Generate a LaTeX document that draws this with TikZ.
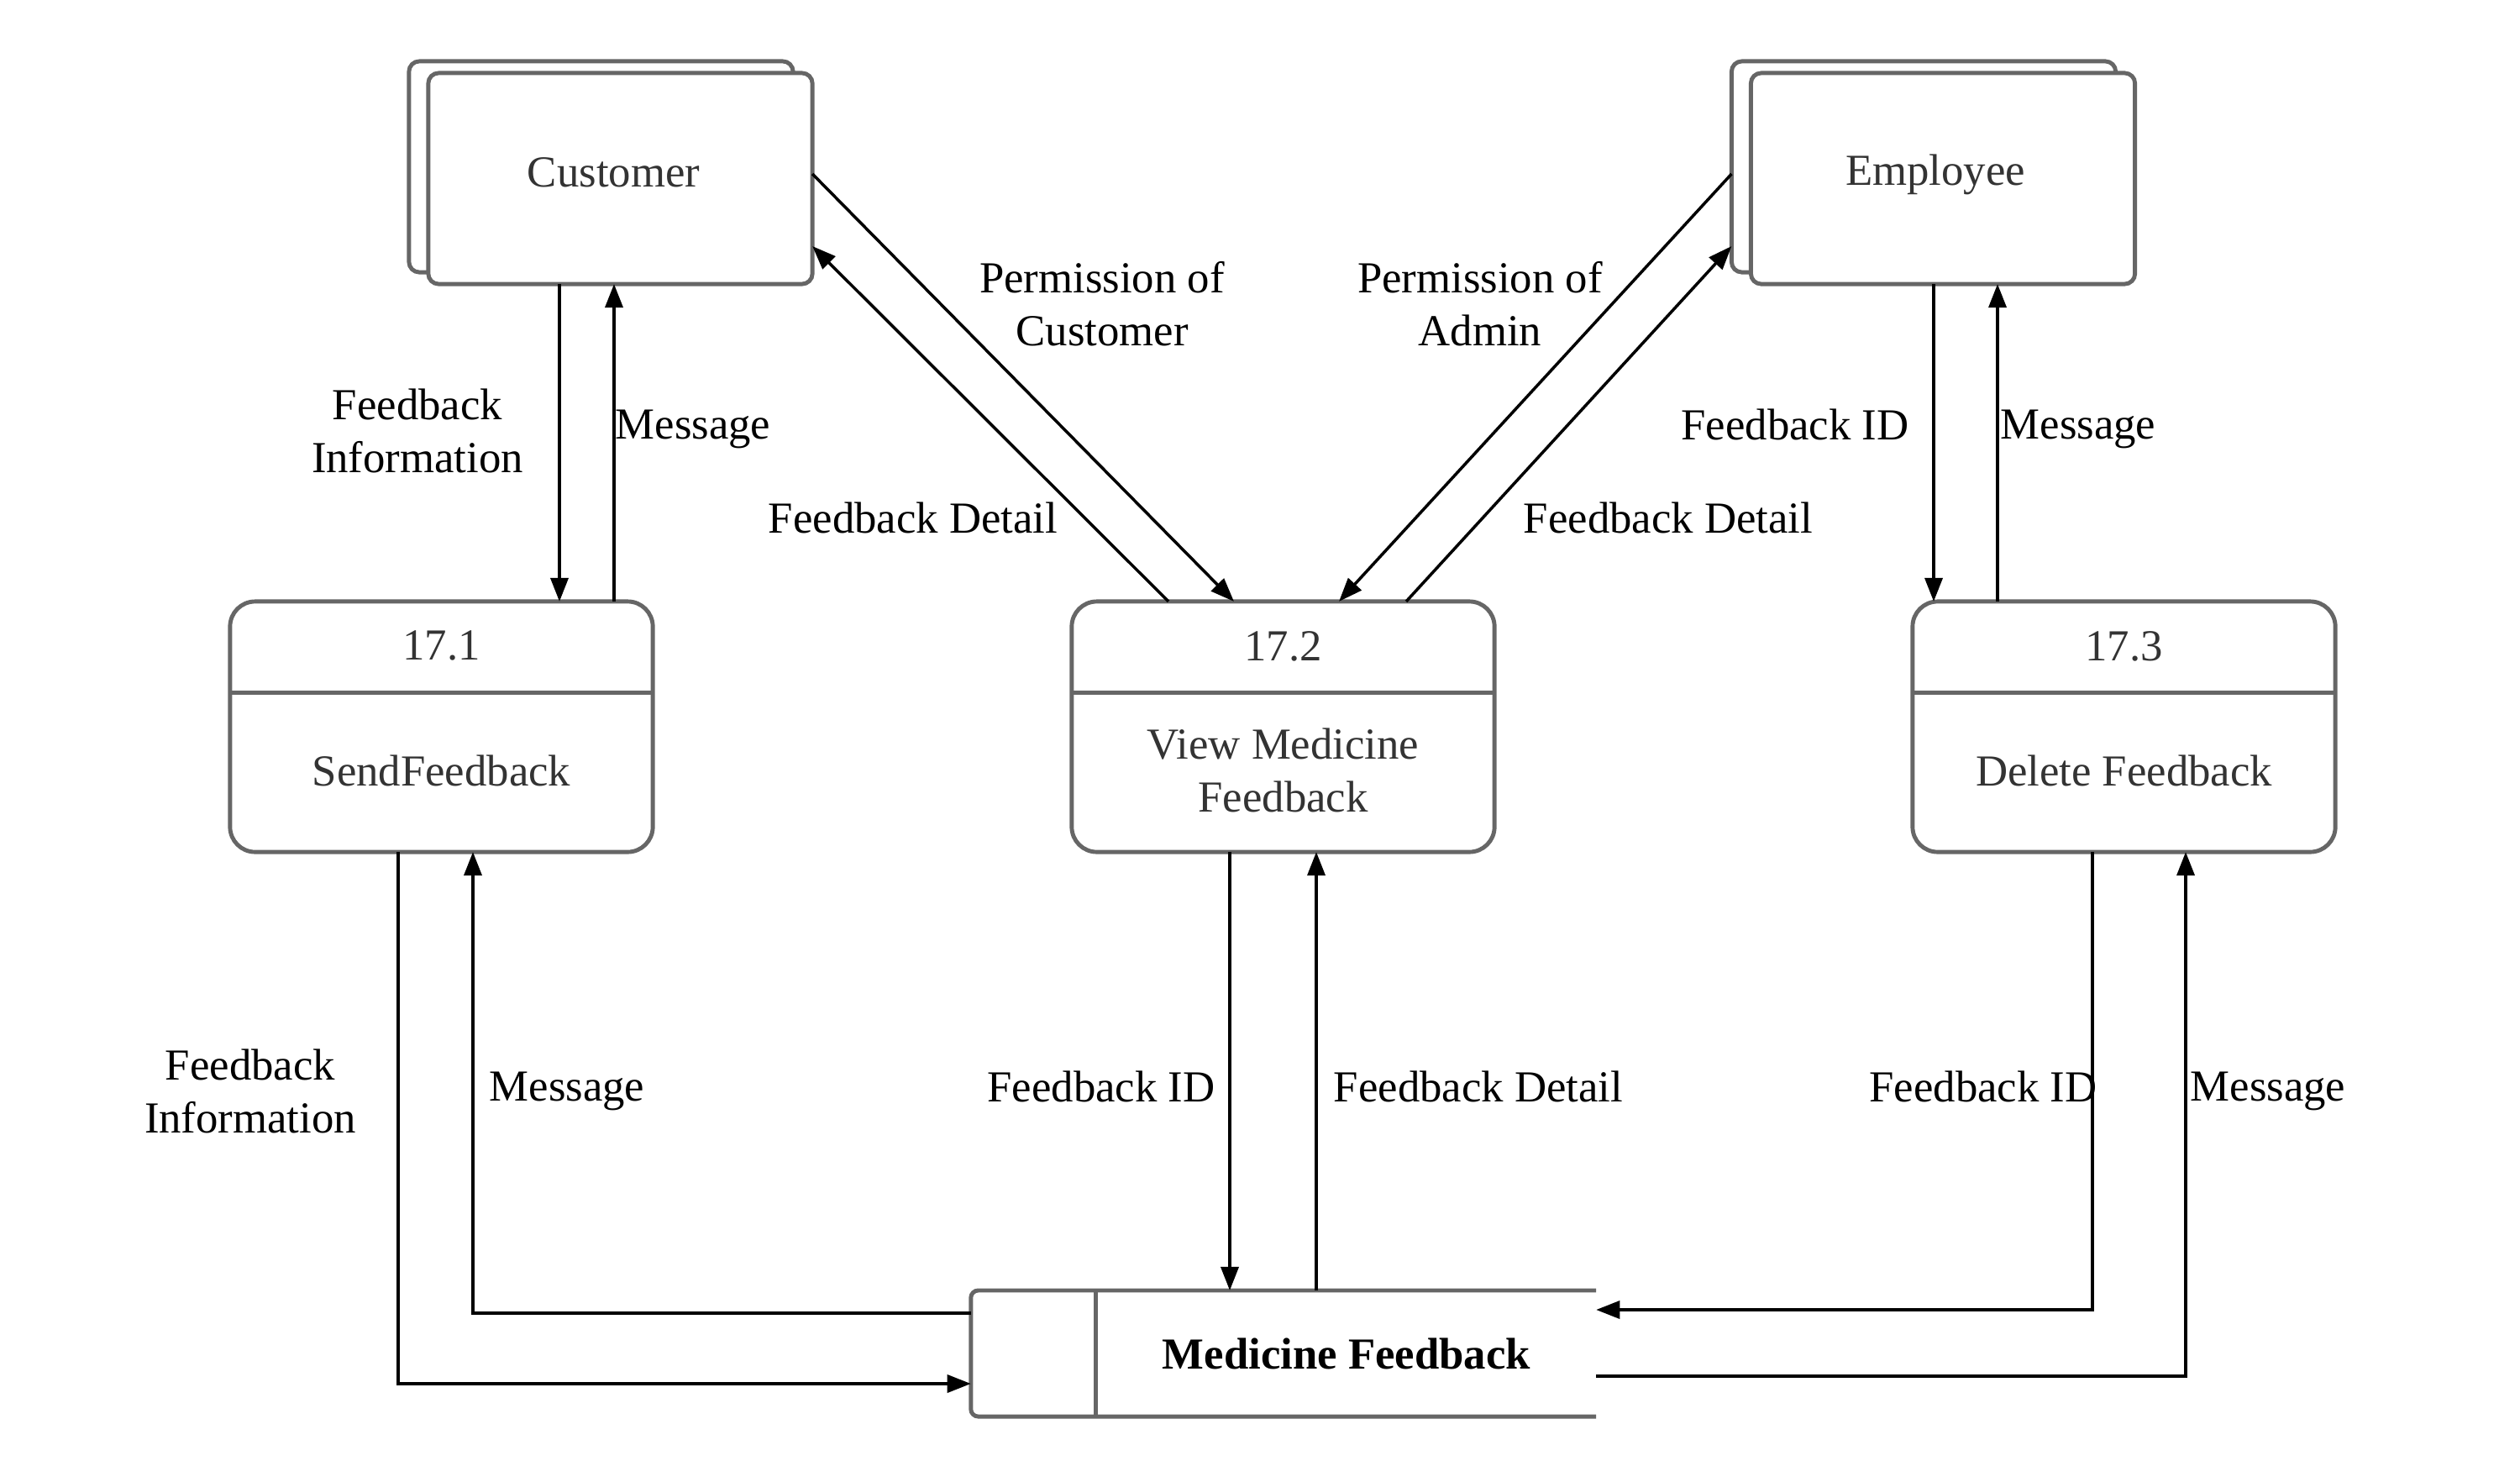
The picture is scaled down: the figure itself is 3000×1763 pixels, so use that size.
\documentclass[tikz,border=0pt]{standalone}
\usepackage{fontspec}
\setmainfont{Liberation Serif}
\usetikzlibrary{calc,arrows.meta}
\definecolor{boxgray}{HTML}{666666}
\definecolor{txtgray}{HTML}{333333}
\begin{document}
\begin{tikzpicture}[x=0.01cm,y=-0.01cm,
  boxline/.style={draw=boxgray,line width=1.4pt},
  entity/.style={boxline,rounded corners=3.5pt,fill=white,inner sep=0pt,outer sep=0pt,
    minimum width=4.57cm,minimum height=2.51cm},
  etext/.style={text=txtgray,font=\fontsize{15}{18}\selectfont,inner sep=0pt},
  proc/.style={boxline,rounded corners=8.5pt,fill=white,inner sep=0pt,outer sep=0pt,
    minimum width=5.03cm,minimum height=2.98cm},
  ptext/.style={text=txtgray,font=\fontsize{15}{18}\selectfont,align=center,inner sep=0pt},
  lbl/.style={font=\fontsize{15}{18}\selectfont,align=center,inner sep=0pt},
  arr/.style={line width=1pt,-{Triangle[length=8pt,width=6pt]}}]
\useasboundingbox (0,0) rectangle (3000,1763);
\fill[white] (0,0) rectangle (3000,1763);

% external entities
\node[entity] (custb) at (715.5,198.5) {};
\node[entity] (cust) at (738.5,212.5) {};
\node[etext] (custt) at ($(cust.center)+(-8,-7)$) {Customer};
\node[entity] (empb) at (2290,198.5) {};
\node[entity] (emp) at (2313,212.5) {};
\node[etext] (empt) at ($(emp.center)+(-9,-5)$) {Employee};

% processes
\node[proc] (p1) at (525.5,865) {};
\node[proc] (p2) at (1527.5,865) {};
\node[proc] (p3) at (2528.5,865) {};
\foreach \p in {p1,p2,p3}{
  \draw[boxline] ($(\p.north west)+(0,109)$) -- ($(\p.north east)+(0,109)$);
}
\node[ptext] (p1n) at ($(p1.north)+(0,53)$) {17.1};
\node[ptext] (p1t) at ($(p1.north)+(0,202)$) {SendFeedback};
\node[ptext] (p2n) at ($(p2.north)+(0,53)$) {17.2};
\node[ptext] (p2t) at ($(p2.north)+(0,201)$) {View Medicine\\Feedback};
\node[ptext] (p3n) at ($(p3.north)+(0,53)$) {17.3};
\node[ptext] (p3t) at ($(p3.north)+(0,202)$) {Delete Feedback};

% data store
\node[inner sep=0pt,outer sep=0pt,minimum width=7.44cm,minimum height=1.5cm] (st) at (1528,1611) {};
\draw[boxline,rounded corners=2.5pt] (st.north east) -- (st.north west) -- (st.south west) -- (st.south east);
\draw[boxline] ($(st.north west)+(149,0)$) -- ($(st.south west)+(149,0)$);
\node[lbl] (stt) at ($(st.center)+(75,0)$) {\textbf{Medicine Feedback}};

% customer <-> 17.1
\draw[arr] ($(cust.south)+(-72.5,0)$) -- ($(p1.north)+(140.5,0)$);
\draw[arr] ($(p1.north)+(205.5,0)$) -- ($(cust.south)+(-7.5,0)$);
% customer <-> 17.2
\draw[arr] ($(cust.east)+(0,-5.5)$) -- ($(p2.north)+(-58.5,0)$);
\draw[arr] ($(p2.north)+(-136.5,0)$) -- ($(cust.east)+(0,80.5)$);
% employee <-> 17.2
\draw[arr] ($(empb.west)+(0,8.5)$) -- ($(p2.north)+(66.5,0)$);
\draw[arr] ($(p2.north)+(146.5,0)$) -- ($(empb.west)+(0,94.5)$);
% employee <-> 17.3
\draw[arr] ($(emp.south)+(-11,0)$) -- ($(p3.north)+(-226.5,0)$);
\draw[arr] ($(p3.north)+(-150.5,0)$) -- ($(emp.south)+(65,0)$);

% processes <-> store
\coordinate (a9) at ($(p1.south)+(-51.5,0)$);
\draw[arr] (a9) |- ($(st.west)+(0,36)$);
\coordinate (a10) at ($(p1.south)+(37.5,0)$);
\draw[arr] ($(st.west)+(0,-48)$) -| (a10);
\coordinate (a11) at ($(p2.south)+(-63.5,0)$);
\draw[arr] (a11) -- (a11 |- st.north);
\coordinate (a12) at ($(p2.south)+(39.5,0)$);
\draw[arr] (a12 |- st.north) -- (a12);
\coordinate (a13) at ($(p3.south)+(-37.5,0)$);
\draw[arr] (a13) |- ($(st.east)+(0,-52)$);
\coordinate (a14) at ($(p3.south)+(73.5,0)$);
\draw[arr] ($(st.east)+(0,27)$) -| (a14);

% labels
\node[lbl] (l1) at (497,513) {Feedback\\Information};
\node[lbl] (l2) at (825,511) {Message};
\node[lbl] (l3) at (1312,362) {Permission of\\Customer};
\node[lbl] (l4) at (1087,616) {Feedback Detail};
\node[lbl] (l5) at (1762,362) {Permission of\\Admin};
\node[lbl] (l6) at (1986,616) {Feedback Detail};
\node[lbl] (l7) at (2137,505) {Feedback ID};
\node[lbl] (l8) at (2474,511) {Message};
\node[lbl] (l9) at (298,1299) {Feedback\\Information};
\node[lbl] (l10) at (675,1299) {Message};
\node[lbl] (l11) at (1311,1293) {Feedback ID};
\node[lbl] (l12) at (1760,1293) {Feedback Detail};
\node[lbl] (l13) at (2361,1293) {Feedback ID};
\node[lbl] (l14) at (2700,1299) {Message};
\end{tikzpicture}
\end{document}
